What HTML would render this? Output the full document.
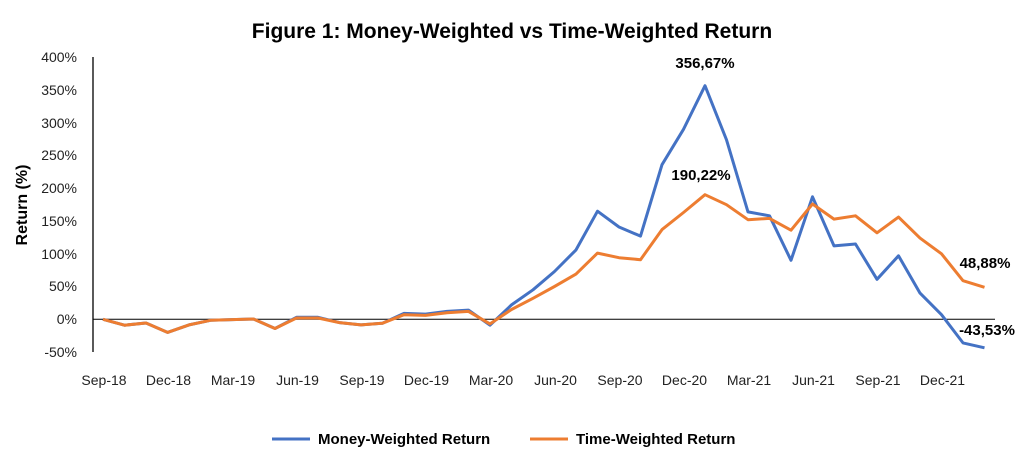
<!DOCTYPE html>
<html><head><meta charset="utf-8"><style>
body{margin:0;background:#fff;}
svg text{font-family:"Liberation Sans",sans-serif;}
</style></head><body>
<svg width="1024" height="471" viewBox="0 0 1024 471" xmlns="http://www.w3.org/2000/svg">
<text x="512" y="38" text-anchor="middle" font-size="21" font-weight="bold" fill="#000">Figure 1: Money-Weighted vs Time-Weighted Return</text>
<g font-size="14" fill="#222" text-anchor="end">
<text x="77" y="62">400%</text><text x="77" y="95">350%</text><text x="77" y="128">300%</text><text x="77" y="160">250%</text><text x="77" y="193">200%</text><text x="77" y="226">150%</text><text x="77" y="259">100%</text><text x="77" y="291">50%</text><text x="77" y="324">0%</text><text x="77" y="357">-50%</text>
</g>
<text transform="translate(27,205) rotate(-90)" text-anchor="middle" font-size="16" font-weight="bold">Return (%)</text>
<line x1="93" y1="57" x2="93" y2="352" stroke="#000" stroke-width="1.3"/>
<line x1="93" y1="319.3" x2="995" y2="319.3" stroke="#000" stroke-width="1"/>
<g font-size="14" fill="#222" text-anchor="middle">
<text x="104" y="385">Sep-18</text><text x="168.5" y="385">Dec-18</text><text x="233" y="385">Mar-19</text><text x="297.5" y="385">Jun-19</text><text x="362" y="385">Sep-19</text><text x="426.5" y="385">Dec-19</text><text x="491" y="385">Mar-20</text><text x="555.5" y="385">Jun-20</text><text x="620" y="385">Sep-20</text><text x="684.5" y="385">Dec-20</text><text x="749" y="385">Mar-21</text><text x="813.5" y="385">Jun-21</text><text x="878" y="385">Sep-21</text><text x="942.5" y="385">Dec-21</text>
</g>
<polyline fill="none" stroke="#4472C4" stroke-width="3" stroke-linejoin="round" points="103,319.3 124.5,325.2 146,323 167.5,332.4 189,324.9 210.5,320.3 232,319.6 253.5,319 275,328.5 296.5,317.3 318,317.3 339.5,322.6 361,324.9 382.5,323.2 404,313.4 425.5,314.1 447,311.4 468.5,310.1 490,325.2 511.5,304.9 533,289.8 554.5,271.5 576,249.9 597.5,211.2 619,227 640.5,236.1 662,164.7 683.5,129.3 705,85.7 726.5,139.8 748,211.9 769.5,215.8 791,260.3 812.5,196.8 834,245.9 855.5,244 877,279.3 898.5,255.8 920,293.1 941.5,314.7 963,342.9 984.5,347.8"/>
<polyline fill="none" stroke="#ED7D31" stroke-width="3" stroke-linejoin="round" points="103,319.3 124.5,325.2 146,323 167.5,332.4 189,324.9 210.5,320.3 232,319.6 253.5,319 275,328.5 296.5,318 318,318 339.5,322.6 361,324.9 382.5,323.2 404,314.7 425.5,315.4 447,312.7 468.5,311.4 490,323.9 511.5,309.5 533,298.3 554.5,286.5 576,274.1 597.5,253.1 619,257.7 640.5,259.7 662,229.6 683.5,212.5 705,194.7 726.5,204.7 748,219.7 769.5,218.4 791,230.2 812.5,204 834,219.1 855.5,215.8 877,232.8 898.5,217.1 920,238.1 941.5,253.8 963,280.7 984.5,287.3"/>
<g font-size="15" font-weight="bold" fill="#000" text-anchor="middle">
<text x="705" y="68">356,67%</text>
<text x="701" y="180">190,22%</text>
<text x="985" y="268">48,88%</text>
<text x="987" y="335">-43,53%</text>
</g>
<line x1="272" y1="439" x2="310" y2="439" stroke="#4472C4" stroke-width="3"/>
<text x="318" y="444" font-size="15" font-weight="bold">Money-Weighted Return</text>
<line x1="530" y1="439" x2="568" y2="439" stroke="#ED7D31" stroke-width="3"/>
<text x="576" y="444" font-size="15" font-weight="bold">Time-Weighted Return</text>
</svg>
</body></html>
